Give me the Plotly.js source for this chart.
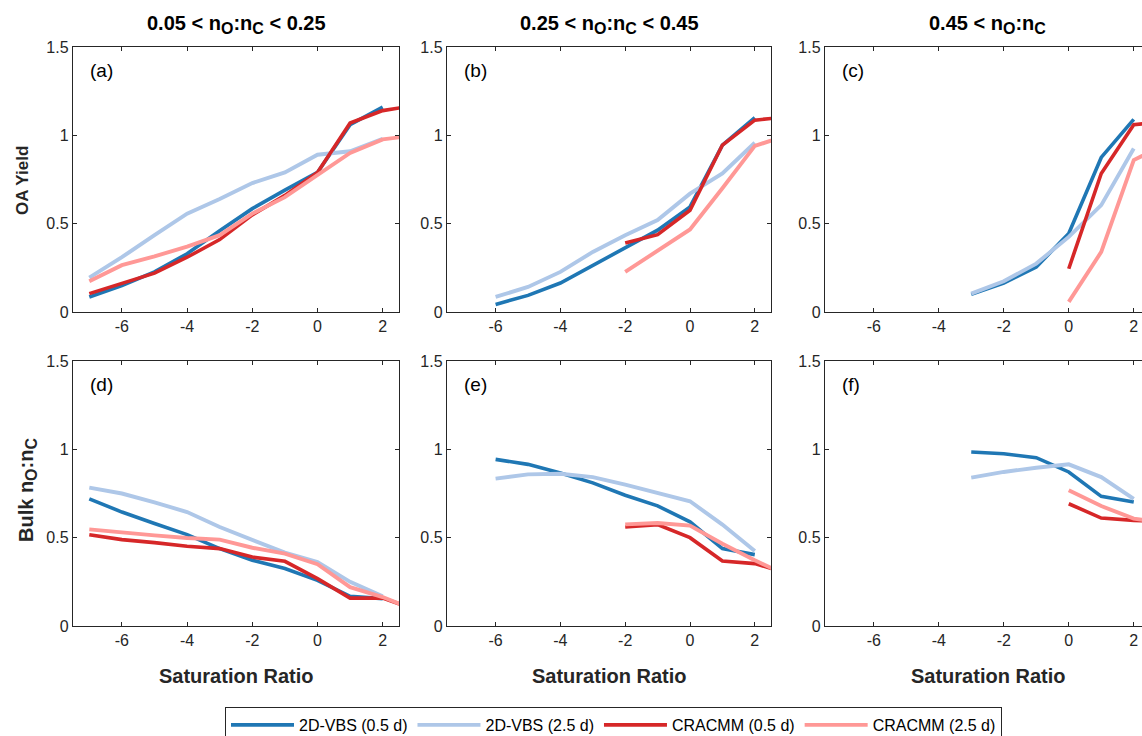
<!DOCTYPE html>
<html>
<head>
<meta charset="utf-8">
<script src="https://cdn.plot.ly/plotly-3.0.1.min.js"></script>
<style>html,body{margin:0;padding:0;background:#fff;}#chart{width:1142px;height:736px;}</style>
</head>
<body>
<div id="chart"></div>
<script>
// ---- Data ----
const seriesNames = ['2D-VBS (0.5 d)', '2D-VBS (2.5 d)', 'CRACMM (0.5 d)', 'CRACMM (2.5 d)'];
const SUB = (s, px) => '<sub><span style="font-size:' + px + 'px">' + s + '</span></sub>';
const columnTitles = [
  '0.05 < n' + SUB('O', 16) + ':n' + SUB('C', 16) + ' < 0.25',
  '0.25 < n' + SUB('O', 16) + ':n' + SUB('C', 16) + ' < 0.45',
  '0.45 < n' + SUB('O', 16) + ':n' + SUB('C', 16)
];
const panelLabels = ['(a)', '(b)', '(c)', '(d)', '(e)', '(f)'];
const xTicks = [-6, -4, -2, 0, 2];
const xTickText = ['-6', '-4', '-2', '0', '2'];
const yTicks = [0, 0.5, 1, 1.5];
const yTickText = ['0', '0.5', '1', '1.5'];

// saturation ratio grids
const xVbsA = [-7, -6, -5, -4, -3, -2, -1, 0, 1, 2];
const xCrA = [-7, -6, -5, -4, -3, -2, -1, 0, 1, 2, 3];
const xVbsB = [-6, -5, -4, -3, -2, -1, 0, 1, 2];
const xCrB = [-2, -1, 0, 1, 2, 3];
const xVbsC = [-3, -2, -1, 0, 1, 2];
const xCrC = [0, 1, 2, 3];

// OA yield
const a_vbs05 = [0.085, 0.15, 0.227, 0.33, 0.46, 0.585, 0.69, 0.79, 1.06, 1.16];
const a_vbs25 = [0.195, 0.31, 0.435, 0.557, 0.64, 0.73, 0.79, 0.89, 0.91, 0.98];
const a_cr05  = [0.104, 0.16, 0.22, 0.31, 0.41, 0.55, 0.66, 0.79, 1.07, 1.14, 1.17];
const a_cr25  = [0.174, 0.265, 0.315, 0.37, 0.435, 0.557, 0.65, 0.775, 0.9, 0.977, 1.0];

const b_vbs05 = [0.043, 0.094, 0.164, 0.264, 0.368, 0.463, 0.595, 0.945, 1.1];
const b_vbs25 = [0.085, 0.142, 0.227, 0.34, 0.435, 0.52, 0.67, 0.784, 0.958];
const b_cr05  = [0.39, 0.438, 0.576, 0.945, 1.086, 1.105];
const b_cr25  = [0.227, 0.35, 0.467, 0.7, 0.94, 1.0];

const c_vbs05 = [0.1, 0.164, 0.255, 0.444, 0.875, 1.09];
const c_vbs25 = [0.104, 0.174, 0.274, 0.425, 0.605, 0.926];
const c_cr05  = [0.245, 0.784, 1.06, 1.08];
const c_cr25  = [0.057, 0.34, 0.86, 0.95];

// Bulk O:C
const d_vbs05 = [0.72, 0.645, 0.58, 0.517, 0.438, 0.372, 0.325, 0.258, 0.168, 0.155];
const d_vbs25 = [0.783, 0.75, 0.70, 0.645, 0.56, 0.485, 0.415, 0.362, 0.25, 0.168];
const d_cr05  = [0.517, 0.489, 0.472, 0.451, 0.438, 0.39, 0.366, 0.268, 0.158, 0.158, 0.094];
const d_cr25  = [0.547, 0.528, 0.513, 0.498, 0.489, 0.443, 0.41, 0.35, 0.22, 0.164, 0.09];

const e_vbs05 = [0.943, 0.915, 0.866, 0.81, 0.74, 0.68, 0.59, 0.438, 0.404];
const e_vbs25 = [0.834, 0.858, 0.862, 0.843, 0.8, 0.753, 0.706, 0.574, 0.425];
const e_cr05  = [0.56, 0.574, 0.5, 0.368, 0.353, 0.30];
const e_cr25  = [0.575, 0.583, 0.568, 0.466, 0.372, 0.285];

const f_vbs05 = [0.985, 0.975, 0.953, 0.872, 0.734, 0.702];
const f_vbs25 = [0.84, 0.872, 0.896, 0.915, 0.843, 0.72];
const f_cr05  = [0.692, 0.611, 0.598, 0.59];
const f_cr25  = [0.768, 0.679, 0.608, 0.58];

// ---- Styling ----
const colors = ['#1f77b4', '#aec7e8', '#d62728', '#ff9896'];
const widths = [3.6, 3.9, 3.6, 3.9];
const FONT = 'Liberation Sans, Arial, sans-serif';
const AX = '#262626';

const panels = [
  {xs: [xVbsA, xVbsA, xCrA, xCrA], ys: [a_vbs05, a_vbs25, a_cr05, a_cr25]},
  {xs: [xVbsB, xVbsB, xCrB, xCrB], ys: [b_vbs05, b_vbs25, b_cr05, b_cr25]},
  {xs: [xVbsC, xVbsC, xCrC, xCrC], ys: [c_vbs05, c_vbs25, c_cr05, c_cr25]},
  {xs: [xVbsA, xVbsA, xCrA, xCrA], ys: [d_vbs05, d_vbs25, d_cr05, d_cr25]},
  {xs: [xVbsB, xVbsB, xCrB, xCrB], ys: [e_vbs05, e_vbs25, e_cr05, e_cr25]},
  {xs: [xVbsC, xVbsC, xCrC, xCrC], ys: [f_vbs05, f_vbs25, f_cr05, f_cr25]}
];

const W = 1142, H = 736;
const colPx = [[73, 399], [447, 771], [825, 1142]];
const colRange = [[-7.5, 2.5], [-7.5, 2.5], [-7.5, 2.5 - (1150 - 1142) / 32.5]];
const rowPx = [[47, 312], [361, 626]];

const traces = [];
panels.forEach((p, i) => {
  const axn = i === 0 ? '' : String(i + 1);
  for (let s = 0; s < 4; s++) {
    traces.push({
      type: 'scatter', mode: 'lines',
      x: p.xs[s], y: p.ys[s],
      xaxis: 'x' + axn, yaxis: 'y' + axn,
      name: seriesNames[s], legendgroup: seriesNames[s],
      showlegend: i === 0,
      line: {color: colors[s], width: widths[s]},
      hoverinfo: 'skip'
    });
  }
});

const layout = {
  width: W, height: H,
  margin: {l: 0, r: 0, t: 0, b: 0, autoexpand: false},
  paper_bgcolor: '#fff', plot_bgcolor: '#fff',
  font: {family: FONT, color: AX, size: 16},
  showlegend: true,
  legend: {
    orientation: 'h', x: 225 / W, y: 1 - 707 / H, xanchor: 'left', yanchor: 'top',
    bordercolor: AX, borderwidth: 1, font: {size: 16, family: FONT, color: '#000'},
    itemwidth: 63, traceorder: 'normal'
  },
  annotations: [],
  shapes: []
};

panels.forEach((p, i) => {
  const r = Math.floor(i / 3), c = i % 3;
  const axn = i === 0 ? '' : String(i + 1);
  const xd = [colPx[c][0] / W, colPx[c][1] / W];
  const yd = [1 - rowPx[r][1] / H, 1 - rowPx[r][0] / H];
  layout['xaxis' + axn] = {
    domain: xd, range: colRange[c], anchor: 'y' + axn,
    tickvals: xTicks, ticktext: xTickText, ticks: 'inside', ticklen: 4, tickcolor: AX,
    showline: true, linecolor: AX, linewidth: 1.2, mirror: 'ticks',
    showgrid: false, zeroline: false, tickfont: {size: 16, color: AX, family: FONT},
    fixedrange: true
  };
  layout['yaxis' + axn] = {
    domain: yd, range: [0, 1.5], anchor: 'x' + axn,
    tickvals: yTicks, ticktext: yTickText, ticks: 'inside', ticklen: 4, tickcolor: AX,
    showline: true, linecolor: AX, linewidth: 1.2, mirror: c === 2 ? false : 'ticks',
    showgrid: false, zeroline: false, tickfont: {size: 16, color: AX, family: FONT},
    fixedrange: true
  };
  layout.annotations.push({
    text: panelLabels[i], xref: 'x' + axn + ' domain', yref: 'y' + axn + ' domain',
    x: 15 / 326, y: 1 - 23 / 265, xanchor: 'left', yanchor: 'middle', showarrow: false,
    font: {size: 19, color: '#000', family: FONT}
  });
});

// column titles and x titles
columnTitles.forEach((t, c) => {
  const cx = c === 2 ? (825 + 1150) / 2 : (colPx[c][0] + colPx[c][1]) / 2;
  layout.annotations.push({
    text: '<b>' + t + '</b>', xref: 'paper', yref: 'paper',
    x: cx / W, y: 1 - 24 / H, xanchor: 'center', yanchor: 'middle', showarrow: false,
    font: {size: 20, color: '#000', family: FONT}
  });
  layout.annotations.push({
    text: '<b>Saturation Ratio</b>', xref: 'paper', yref: 'paper',
    x: cx / W, y: 1 - 676 / H, xanchor: 'center', yanchor: 'middle', showarrow: false,
    font: {size: 20, color: '#262626', family: FONT}
  });
});

// y titles
layout.annotations.push({
  text: '<b>OA Yield</b>', xref: 'paper', yref: 'paper', textangle: -90,
  x: 22 / W, y: 1 - 181 / H, xanchor: 'center', yanchor: 'middle', showarrow: false,
  font: {size: 17, color: '#262626', family: FONT}
});
layout.annotations.push({
  text: '<b>Bulk n' + SUB('O', 16) + ':n' + SUB('C', 16) + '</b>', xref: 'paper', yref: 'paper', textangle: -90,
  x: 27 / W, y: 1 - 490 / H, xanchor: 'center', yanchor: 'middle', showarrow: false,
  font: {size: 20, color: '#262626', family: FONT}
});

Plotly.newPlot('chart', traces, layout, {staticPlot: true, displayModeBar: false});
</script>
</body>
</html>
